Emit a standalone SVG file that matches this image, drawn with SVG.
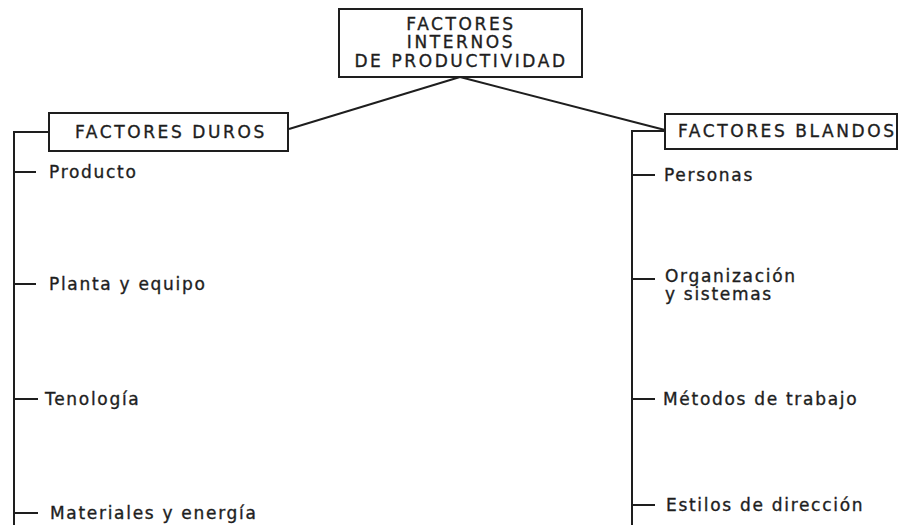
<svg xmlns="http://www.w3.org/2000/svg" width="900" height="525" viewBox="0 0 900 525">
<style>
text{font-family:"DejaVu Sans",Verdana,sans-serif;font-size:17px;letter-spacing:1.7px;fill:#1e1e1e;stroke:#1e1e1e;stroke-width:0.35}
text.cap{letter-spacing:2.6px}
.box{fill:#fff;stroke:#1e1e1e;stroke-width:2}
.ln{stroke:#1e1e1e;stroke-width:2;fill:none}
</style>
<rect width="900" height="525" fill="#fff"/>
<g id="connectors">
<path class="ln" d="M460 77 L289 129"/>
<path class="ln" d="M460 77 L665 130"/>
<path class="ln" d="M49 132 H14 V525"/>
<path class="ln" d="M665 131 H632 V525"/>
<path class="ln" d="M14 172 H36"/>
<path class="ln" d="M14 284 H36"/>
<path class="ln" d="M14 399 H38"/>
<path class="ln" d="M14 513 H38"/>
<path class="ln" d="M632 175 H655"/>
<path class="ln" d="M632 279 H655"/>
<path class="ln" d="M632 399 H655"/>
<path class="ln" d="M632 505 H655"/>
</g>
<g id="root">
<rect class="box" x="339" y="9" width="243" height="68"/>
<text class="cap" x="461" y="30" text-anchor="middle">FACTORES</text>
<text class="cap" x="461" y="48" text-anchor="middle">INTERNOS</text>
<text class="cap" x="461" y="67" text-anchor="middle">DE PRODUCTIVIDAD</text>
</g>
<g id="duros">
<rect class="box" x="49" y="113" width="239" height="38"/>
<text class="cap" x="75" y="138">FACTORES DUROS</text>
</g>
<g id="blandos">
<rect class="box" x="665" y="114" width="232" height="35"/>
<text class="cap" x="678" y="137">FACTORES BLANDOS</text>
</g>
<g id="producto"><text x="49" y="178">Producto</text></g>
<g id="planta"><text x="49" y="290">Planta y equipo</text></g>
<g id="tecnologia"><text x="45" y="405">Tenología</text></g>
<g id="materiales"><text x="50" y="519">Materiales y energía</text></g>
<g id="personas"><text x="664" y="181">Personas</text></g>
<g id="organizacion"><text x="665" y="282">Organización</text><text x="665" y="300">y sistemas</text></g>
<g id="metodos"><text x="663" y="405">Métodos de trabajo</text></g>
<g id="estilos"><text x="666" y="511">Estilos de dirección</text></g>
</svg>
